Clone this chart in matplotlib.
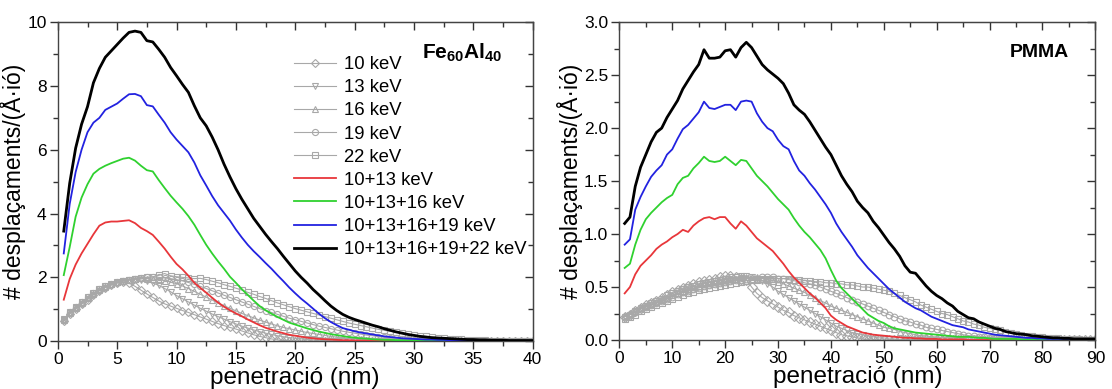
import numpy as np
import matplotlib
matplotlib.use("Agg")
import matplotlib.pyplot as plt
from matplotlib.ticker import MultipleLocator

plt.rcParams['font.family'] = ['Liberation Sans', 'DejaVu Sans']
plt.rcParams['mathtext.fontset'] = 'custom'
plt.rcParams['mathtext.rm'] = 'Liberation Sans'
plt.rcParams['mathtext.bf'] = 'Liberation Sans:bold'

# ---------------- Fe60Al40 (left) ----------------
x_fe = np.arange(1, 81) * 0.5  # 0.5 ... 40 nm

fe_10 = [0.62, 0.85, 1.0, 1.15, 1.3, 1.45, 1.58, 1.68, 1.76, 1.82,
         1.84, 1.82, 1.72, 1.6, 1.48, 1.37, 1.26, 1.17, 1.1, 1.03,
         0.96, 0.9, 0.83, 0.76, 0.69, 0.62, 0.55, 0.49, 0.43, 0.38,
         0.32, 0.26, 0.2, 0.15, 0.11, 0.07, 0.04, 0.02, 0.01, 0.0,
         0, 0, 0, 0, 0, 0, 0, 0, 0, 0,
         0, 0, 0, 0, 0, 0, 0, 0, 0, 0,
         0, 0, 0, 0, 0, 0, 0, 0, 0, 0,
         0, 0, 0, 0, 0, 0, 0, 0, 0, 0]
fe_13 = [0.65, 0.88, 1.03, 1.18, 1.32, 1.46, 1.58, 1.68, 1.76, 1.83,
         1.88, 1.92, 1.94, 1.92, 1.88, 1.82, 1.75, 1.65, 1.55, 1.43,
         1.33, 1.23, 1.13, 1.03, 0.94, 0.85, 0.77, 0.69, 0.61, 0.54,
         0.47, 0.41, 0.35, 0.3, 0.25, 0.21, 0.17, 0.14, 0.11, 0.09,
         0.07, 0.05, 0.04, 0.03, 0.02, 0.01, 0, 0, 0, 0,
         0, 0, 0, 0, 0, 0, 0, 0, 0, 0,
         0, 0, 0, 0, 0, 0, 0, 0, 0, 0,
         0, 0, 0, 0, 0, 0, 0, 0, 0, 0]
fe_16 = [0.65, 0.88, 1.05, 1.2, 1.35, 1.48, 1.6, 1.7, 1.78, 1.84,
         1.88, 1.92, 1.95, 1.97, 1.96, 1.95, 1.93, 1.9, 1.85, 1.8,
         1.73, 1.65, 1.56, 1.47, 1.38, 1.29, 1.2, 1.11, 1.03, 0.95,
         0.87, 0.8, 0.73, 0.66, 0.6, 0.54, 0.48, 0.43, 0.39, 0.35,
         0.31, 0.27, 0.24, 0.21, 0.18, 0.15, 0.13, 0.11, 0.09, 0.07,
         0.06, 0.05, 0.04, 0.03, 0.02, 0.02, 0.01, 0, 0, 0,
         0, 0, 0, 0, 0, 0, 0, 0, 0, 0,
         0, 0, 0, 0, 0, 0, 0, 0, 0, 0]
fe_19 = [0.66, 0.9, 1.06, 1.22, 1.37, 1.5, 1.62, 1.72, 1.8, 1.86,
         1.9, 1.93, 1.96, 1.98, 2.0, 2.01, 2.0, 1.98, 1.96, 1.93,
         1.89, 1.84, 1.78, 1.72, 1.65, 1.58, 1.51, 1.44, 1.37, 1.3,
         1.23, 1.16, 1.09, 1.02, 0.96, 0.9, 0.84, 0.78, 0.72, 0.67,
         0.62, 0.57, 0.52, 0.47, 0.43, 0.39, 0.35, 0.31, 0.28, 0.25,
         0.22, 0.19, 0.17, 0.14, 0.12, 0.1, 0.09, 0.07, 0.06, 0.05,
         0.04, 0.03, 0.02, 0.02, 0.01, 0, 0, 0, 0, 0,
         0, 0, 0, 0, 0, 0, 0, 0, 0, 0]
fe_22 = [0.68, 0.9, 1.06, 1.22, 1.37, 1.5, 1.62, 1.72, 1.8, 1.86,
         1.9, 1.93, 1.96, 1.99, 2.0, 2.02, 2.06, 2.12, 2.05, 2.02,
         2.0, 1.98, 1.96, 1.97, 1.93, 1.88, 1.83, 1.77, 1.72, 1.66,
         1.6, 1.53, 1.47, 1.4, 1.34, 1.27, 1.2, 1.14, 1.08, 1.02,
         0.97, 0.92, 0.87, 0.82, 0.77, 0.72, 0.67, 0.62, 0.57, 0.53,
         0.49, 0.45, 0.41, 0.37, 0.34, 0.31, 0.28, 0.25, 0.22, 0.19,
         0.17, 0.15, 0.13, 0.11, 0.09, 0.08, 0.07, 0.06, 0.05, 0.04,
         0.03, 0.03, 0.02, 0.02, 0.01, 0.01, 0.01, 0, 0, 0]

fe_s2 = [1.3, 1.95, 2.4, 2.75, 3.05, 3.35, 3.62, 3.72, 3.75, 3.75,
         3.77, 3.79, 3.7, 3.55, 3.45, 3.33, 3.12, 2.9, 2.65, 2.42,
         2.25, 2.05, 1.83, 1.67, 1.52, 1.36, 1.21, 1.08, 0.97, 0.87,
         0.78, 0.68, 0.59, 0.5, 0.42, 0.36, 0.3, 0.25, 0.2, 0.17,
         0.14, 0.11, 0.09, 0.07, 0.06, 0.05, 0.04, 0.03, 0.03, 0.02,
         0.02, 0.02, 0.01, 0.01, 0.01, 0.01, 0.01, 0.01, 0.01, 0.01,
         0.01, 0.01, 0, 0, 0, 0, 0, 0, 0, 0,
         0, 0, 0, 0, 0, 0, 0, 0, 0, 0]
fe_s3 = [2.07, 2.95, 3.9, 4.5, 4.92, 5.25, 5.4, 5.5, 5.58, 5.65,
         5.72, 5.75, 5.66, 5.5, 5.36, 5.32, 5.05, 4.8, 4.56, 4.35,
         4.15, 3.92, 3.65, 3.33, 3.02, 2.75, 2.5, 2.27, 2.02, 1.83,
         1.63, 1.45, 1.27, 1.1, 0.97, 0.86, 0.76, 0.67, 0.58, 0.52,
         0.46, 0.4, 0.35, 0.3, 0.26, 0.22, 0.19, 0.16, 0.13, 0.11,
         0.09, 0.08, 0.06, 0.05, 0.04, 0.04, 0.03, 0.03, 0.02, 0.02,
         0.02, 0.01, 0.01, 0.01, 0.01, 0.01, 0.01, 0.01, 0.01, 0.01,
         0.01, 0.01, 0.01, 0.01, 0.01, 0.01, 0.01, 0.01, 0.01, 0.01]
fe_s4 = [2.75, 4.3, 5.3, 6.0, 6.55, 6.85, 7.0, 7.25, 7.35, 7.45,
         7.6, 7.74, 7.75, 7.68, 7.4, 7.36, 7.1, 6.85, 6.55, 6.32,
         6.12, 5.92, 5.6, 5.2, 4.88, 4.55, 4.26, 4.02, 3.78, 3.5,
         3.25, 3.02, 2.82, 2.64, 2.45, 2.27, 2.07, 1.88, 1.68, 1.5,
         1.33, 1.18, 1.02, 0.86, 0.72, 0.6, 0.5, 0.41, 0.36, 0.31,
         0.27, 0.24, 0.21, 0.18, 0.15, 0.13, 0.11, 0.09, 0.08, 0.07,
         0.06, 0.05, 0.05, 0.04, 0.04, 0.03, 0.03, 0.03, 0.02, 0.02,
         0.02, 0.02, 0.02, 0.01, 0.01, 0.01, 0.01, 0.01, 0.01, 0.01]
fe_s5 = [3.45, 4.95, 6.05, 6.8, 7.35, 8.1, 8.55, 8.9, 9.1, 9.3,
         9.5, 9.68, 9.72, 9.68, 9.42, 9.38, 9.15, 8.9, 8.58, 8.32,
         8.05, 7.8, 7.38, 7.0, 6.75, 6.4, 6.0, 5.55, 5.15, 4.78,
         4.45, 4.15, 3.85, 3.6, 3.35, 3.12, 2.9, 2.66, 2.43, 2.2,
         2.0, 1.82, 1.62, 1.45, 1.27, 1.1, 0.96, 0.84, 0.75, 0.68,
         0.62, 0.56, 0.5, 0.45, 0.39, 0.34, 0.29, 0.25, 0.21, 0.18,
         0.15, 0.13, 0.11, 0.1, 0.09, 0.08, 0.07, 0.06, 0.05, 0.05,
         0.04, 0.04, 0.03, 0.03, 0.03, 0.02, 0.02, 0.02, 0.02, 0.02]

# ---------------- PMMA (right) ----------------
x_pm = np.arange(1, 91)  # 1 ... 90 nm

pm_10 = [0.22, 0.24, 0.27, 0.3, 0.33, 0.35, 0.37, 0.4, 0.42, 0.45,
         0.47, 0.49, 0.51, 0.53, 0.55, 0.56, 0.57, 0.58, 0.59, 0.6,
         0.6, 0.59, 0.58, 0.57, 0.5, 0.44, 0.4, 0.37, 0.34, 0.31,
         0.28, 0.26, 0.23, 0.21, 0.19, 0.17, 0.15, 0.13, 0.11, 0.09,
         0.07, 0.05, 0.04, 0.03, 0.02, 0.01, 0, 0, 0, 0,
         0, 0, 0, 0, 0, 0, 0, 0, 0, 0,
         0, 0, 0, 0, 0, 0, 0, 0, 0, 0,
         0, 0, 0, 0, 0, 0, 0, 0, 0, 0,
         0, 0, 0, 0, 0, 0, 0, 0, 0, 0]
pm_13 = [0.22, 0.24, 0.27, 0.3, 0.32, 0.35, 0.37, 0.39, 0.42, 0.44,
         0.46, 0.48, 0.5, 0.51, 0.53, 0.54, 0.55, 0.56, 0.57, 0.58,
         0.59, 0.59, 0.6, 0.6, 0.59, 0.58, 0.56, 0.53, 0.5, 0.46,
         0.43, 0.4, 0.37, 0.34, 0.31, 0.28, 0.25, 0.22, 0.19, 0.16,
         0.13, 0.11, 0.09, 0.07, 0.06, 0.05, 0.04, 0.03, 0.02, 0.02,
         0.01, 0.01, 0, 0, 0, 0, 0, 0, 0, 0,
         0, 0, 0, 0, 0, 0, 0, 0, 0, 0,
         0, 0, 0, 0, 0, 0, 0, 0, 0, 0,
         0, 0, 0, 0, 0, 0, 0, 0, 0, 0]
pm_16 = [0.23, 0.25, 0.27, 0.3, 0.32, 0.34, 0.36, 0.38, 0.4, 0.42,
         0.44, 0.46, 0.48, 0.5, 0.51, 0.53, 0.54, 0.55, 0.56, 0.57,
         0.58, 0.58, 0.59, 0.59, 0.59, 0.59, 0.58, 0.57, 0.56, 0.55,
         0.53, 0.51, 0.49, 0.47, 0.45, 0.42, 0.4, 0.37, 0.35, 0.32,
         0.3, 0.28, 0.26, 0.24, 0.22, 0.2, 0.18, 0.16, 0.14, 0.12,
         0.11, 0.1, 0.08, 0.07, 0.06, 0.05, 0.04, 0.04, 0.03, 0.03,
         0.02, 0.02, 0.01, 0.01, 0, 0, 0, 0, 0, 0,
         0, 0, 0, 0, 0, 0, 0, 0, 0, 0,
         0, 0, 0, 0, 0, 0, 0, 0, 0, 0]
pm_19 = [0.22, 0.24, 0.26, 0.29, 0.31, 0.33, 0.35, 0.37, 0.39, 0.41,
         0.43, 0.45, 0.46, 0.48, 0.49, 0.51, 0.52, 0.53, 0.54, 0.55,
         0.56, 0.57, 0.57, 0.58, 0.58, 0.58, 0.59, 0.59, 0.59, 0.58,
         0.58, 0.57, 0.56, 0.55, 0.54, 0.53, 0.52, 0.5, 0.48, 0.46,
         0.44, 0.42, 0.4, 0.38, 0.36, 0.34, 0.32, 0.3, 0.28, 0.26,
         0.24, 0.22, 0.2, 0.18, 0.17, 0.15, 0.14, 0.12, 0.11, 0.1,
         0.09, 0.08, 0.07, 0.06, 0.05, 0.04, 0.04, 0.03, 0.03, 0.02,
         0.02, 0.01, 0.01, 0.01, 0, 0, 0, 0, 0, 0,
         0, 0, 0, 0, 0, 0, 0, 0, 0, 0]
pm_22 = [0.2, 0.22, 0.24, 0.27, 0.29, 0.31, 0.33, 0.35, 0.37, 0.39,
         0.41, 0.42, 0.44, 0.45, 0.47, 0.48, 0.49, 0.5, 0.51, 0.52,
         0.53, 0.54, 0.55, 0.56, 0.57, 0.57, 0.58, 0.58, 0.58, 0.58,
         0.58, 0.58, 0.57, 0.57, 0.56, 0.56, 0.55, 0.55, 0.54, 0.54,
         0.53, 0.53, 0.52, 0.52, 0.51, 0.5, 0.5, 0.49, 0.48, 0.47,
         0.46, 0.44, 0.42, 0.4, 0.38, 0.36, 0.33, 0.31, 0.29, 0.27,
         0.25, 0.24, 0.22, 0.2, 0.18, 0.17, 0.15, 0.14, 0.12, 0.11,
         0.1, 0.09, 0.08, 0.07, 0.06, 0.05, 0.04, 0.04, 0.03, 0.03,
         0.02, 0.02, 0.02, 0.01, 0.01, 0.01, 0.01, 0, 0, 0]

pm_s2 = [0.44, 0.5, 0.62, 0.7, 0.75, 0.8, 0.86, 0.9, 0.93, 0.97,
         1.0, 1.04, 1.02, 1.08, 1.12, 1.15, 1.16, 1.14, 1.16, 1.16,
         1.1, 1.05, 1.12, 1.08, 1.02, 0.96, 0.92, 0.88, 0.84, 0.78,
         0.72, 0.65, 0.59, 0.54, 0.49, 0.44, 0.4, 0.35, 0.3, 0.23,
         0.19, 0.16, 0.13, 0.11, 0.09, 0.07, 0.06, 0.05, 0.045, 0.04,
         0.035, 0.03, 0.025, 0.02, 0.02, 0.015, 0.015, 0.01, 0.01, 0.01,
         0.005, 0.005, 0.005, 0.005, 0.005, 0, 0, 0, 0, 0,
         0, 0, 0, 0, 0, 0, 0, 0, 0, 0,
         0, 0, 0, 0, 0, 0, 0, 0, 0, 0]
pm_s3 = [0.68, 0.72, 0.9, 1.04, 1.14, 1.2, 1.25, 1.3, 1.34, 1.37,
         1.47, 1.53, 1.55, 1.62, 1.67, 1.73, 1.69, 1.68, 1.69, 1.73,
         1.69, 1.65, 1.7, 1.69, 1.62, 1.55, 1.5, 1.45, 1.39, 1.33,
         1.28, 1.23, 1.15, 1.08, 1.02, 0.97, 0.91, 0.85, 0.77, 0.66,
         0.56, 0.49, 0.44, 0.39, 0.34, 0.29, 0.24, 0.21, 0.18, 0.16,
         0.13, 0.11, 0.1, 0.09, 0.08, 0.07, 0.065, 0.06, 0.055, 0.05,
         0.045, 0.04, 0.035, 0.03, 0.03, 0.03, 0.025, 0.02, 0.02, 0.015,
         0.01, 0.01, 0.01, 0.01, 0.01, 0.005, 0.005, 0.005, 0.005, 0.005,
         0, 0, 0, 0, 0, 0, 0, 0, 0, 0]
pm_s4 = [0.9, 0.95, 1.23, 1.35, 1.45, 1.54, 1.6, 1.65, 1.75, 1.8,
         1.9, 1.99, 2.03, 2.09, 2.15, 2.25, 2.19, 2.18, 2.2, 2.22,
         2.22, 2.17, 2.25, 2.26, 2.25, 2.14, 2.06, 2.0, 1.97, 1.89,
         1.83, 1.8, 1.69, 1.6, 1.55, 1.48, 1.42, 1.35, 1.28, 1.2,
         1.1, 1.02, 0.95, 0.88, 0.8, 0.74, 0.68, 0.63, 0.58, 0.53,
         0.48, 0.44, 0.4, 0.36, 0.33, 0.3, 0.28, 0.25, 0.22, 0.2,
         0.18, 0.16, 0.14, 0.13, 0.12, 0.1, 0.09, 0.08, 0.07, 0.06,
         0.05, 0.045, 0.04, 0.035, 0.03, 0.025, 0.02, 0.02, 0.015, 0.015,
         0.01, 0.01, 0.01, 0.01, 0.01, 0.005, 0.005, 0.005, 0.005, 0.005]
pm_s5 = [1.1, 1.16, 1.45, 1.63, 1.75, 1.87, 1.96, 2.0, 2.1, 2.18,
         2.26, 2.37, 2.45, 2.53, 2.6, 2.74, 2.66, 2.66, 2.67, 2.73,
         2.74, 2.67, 2.76, 2.81, 2.76, 2.68, 2.6, 2.55, 2.51, 2.47,
         2.42, 2.33, 2.22, 2.17, 2.13, 2.06, 1.98, 1.9, 1.82, 1.75,
         1.65, 1.55, 1.47, 1.4, 1.31, 1.25, 1.2, 1.12, 1.06, 0.99,
         0.92, 0.86, 0.79, 0.7, 0.64, 0.63, 0.57, 0.51, 0.46, 0.42,
         0.39, 0.35, 0.32, 0.27, 0.24, 0.21, 0.2, 0.17, 0.15, 0.13,
         0.11, 0.1, 0.08, 0.07, 0.06, 0.055, 0.05, 0.04, 0.035, 0.03,
         0.025, 0.02, 0.02, 0.015, 0.015, 0.01, 0.01, 0.01, 0.01, 0.01]

single_labels = ['10 keV', '13 keV', '16 keV', '19 keV', '22 keV']
single_markers = ['D', 'v', '^', 'o', 's']
sum_labels = ['10+13 keV', '10+13+16 keV', '10+13+16+19 keV', '10+13+16+19+22 keV']
sum_colors = ['#e8363a', '#2fd12f', '#2222e0', '#000000']
sum_widths = [1.3, 1.3, 1.3, 2.0]

GRAY = '#a8a8a8'

fig = plt.figure(figsize=(11.12, 3.89), dpi=100)
axL = fig.add_axes([0.052, 0.123, 0.427, 0.820])
axR = fig.add_axes([0.557, 0.126, 0.428, 0.817])


def draw(ax, x, singles, sums, msizes):
    handles = []
    for y, m, lab, ms in zip(singles, single_markers, single_labels, msizes):
        h, = ax.plot(x, y, color=GRAY, lw=0.8, marker=m, ms=ms,
                     mfc='none', mec=GRAY, mew=0.8, label=lab, zorder=2)
        handles.append(h)
    for y, c, lw, lab in zip(sums, sum_colors, sum_widths, sum_labels):
        h, = ax.plot(x, y, color=c, lw=lw, label=lab, zorder=3)
        handles.append(h)
    return handles


hL = draw(axL, x_fe, [fe_10, fe_13, fe_16, fe_19, fe_22],
          [fe_s2, fe_s3, fe_s4, fe_s5], [4.0, 4.6, 4.6, 4.4, 4.6])
draw(axR, x_pm, [pm_10, pm_13, pm_16, pm_19, pm_22],
     [pm_s2, pm_s3, pm_s4, pm_s5], [4.6, 5.0, 5.0, 4.8, 5.0])


def style(ax, xmax, xmaj, xmin, ymax, ymaj, ymin, yfmt):
    ax.set_xlim(0, xmax)
    ax.set_ylim(0, ymax)
    ax.xaxis.set_major_locator(MultipleLocator(xmaj))
    ax.xaxis.set_minor_locator(MultipleLocator(xmin))
    ax.yaxis.set_major_locator(MultipleLocator(ymaj))
    ax.yaxis.set_minor_locator(MultipleLocator(ymin))
    ax.yaxis.set_major_formatter(yfmt)
    ax.tick_params(which='major', direction='out', length=6, width=1,
                   labelsize=12.5, color='#333333', pad=2)
    ax.tick_params(which='minor', direction='out', length=3.5, width=1,
                   color='#333333')
    for s in ax.spines.values():
        s.set_color('#444444')
        s.set_linewidth(1.0)
    top = ax.secondary_xaxis('top')
    top.xaxis.set_major_locator(MultipleLocator(xmaj))
    top.xaxis.set_minor_locator(MultipleLocator(xmin))
    top.tick_params(which='major', direction='in', length=6, width=1,
                    labeltop=False, color='#333333')
    top.tick_params(which='minor', direction='in', length=3.5, width=1,
                    color='#333333')
    top.spines['top'].set_color('#444444')
    right = ax.secondary_yaxis('right')
    right.yaxis.set_major_locator(MultipleLocator(ymaj))
    right.yaxis.set_minor_locator(MultipleLocator(ymin))
    right.tick_params(which='major', direction='in', length=6, width=1,
                      labelright=False, color='#333333')
    right.tick_params(which='minor', direction='in', length=3.5, width=1,
                      color='#333333')
    right.spines['right'].set_color('#444444')
    ax.set_xlabel('penetració (nm)', fontsize=17.5, labelpad=0)
    ax.set_ylabel('# desplaçaments/(Å·ió)', fontsize=16.5, labelpad=1)


style(axL, 40, 5, 2.5, 10, 2, 1, '{x:.0f}')
style(axR, 90, 10, 5, 3.0, 0.5, 0.25, '{x:.1f}')

axL.text(0.935, 0.905, r'$\mathbf{Fe_{60}Al_{40}}$', transform=axL.transAxes,
         ha='right', va='center', fontsize=15)
axR.text(0.945, 0.905, 'PMMA', transform=axR.transAxes, ha='right',
         va='center', fontsize=14, fontweight='bold')

axL.legend(handles=hL, loc='upper left', bbox_to_anchor=(0.497, 0.893),
           frameon=False, fontsize=13.3, handlelength=2.3, handletextpad=0.4,
           labelspacing=0.33, borderaxespad=0, borderpad=0, numpoints=1)

fig.savefig('out.png', dpi=100)
